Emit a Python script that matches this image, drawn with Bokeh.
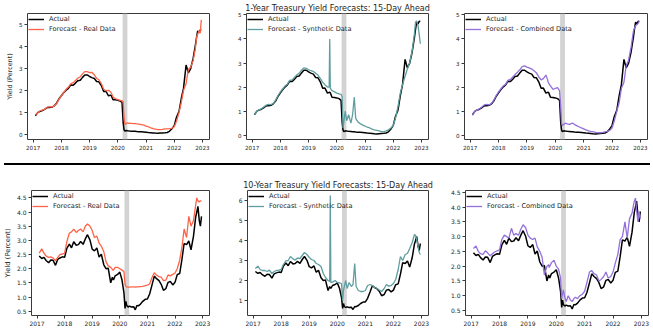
from bokeh.plotting import figure
from bokeh.layouts import column, row
from bokeh.models import (Legend, LegendItem, FixedTicker, Title, BoxAnnotation,
                          Range1d, NumeralTickFormatter, Div, Spacer)
from bokeh.embed import file_html
from bokeh.resources import INLINE

# ---------------- data (decimal years) ----------------
YEARS = [
    2017.08, 2017.17, 2017.25, 2017.33, 2017.42, 2017.50, 2017.58, 2017.67, 2017.75, 2017.83, 2017.92,
    2018.00, 2018.08, 2018.17, 2018.25, 2018.33, 2018.42, 2018.50, 2018.58, 2018.67, 2018.75, 2018.83, 2018.92,
    2019.00, 2019.08, 2019.17, 2019.25, 2019.33, 2019.42, 2019.50, 2019.58, 2019.67, 2019.73, 2019.75, 2019.77, 2019.83, 2019.92,
    2020.00, 2020.08, 2020.15, 2020.19, 2020.22, 2020.25, 2020.30, 2020.35, 2020.42, 2020.50, 2020.56, 2020.62, 2020.67, 2020.75, 2020.83, 2020.92,
    2021.00, 2021.08, 2021.17, 2021.25, 2021.33, 2021.42, 2021.50, 2021.58, 2021.67, 2021.75, 2021.83, 2021.92,
    2022.00, 2022.08, 2022.17, 2022.25, 2022.33, 2022.42, 2022.50, 2022.58, 2022.67, 2022.75, 2022.79, 2022.83, 2022.88, 2022.92, 2022.96,
]

# 1-Year Treasury
ACTUAL_1Y = [
    0.85, 1.00, 1.05, 1.08, 1.15, 1.22, 1.22, 1.24, 1.30, 1.42, 1.62,
    1.76, 1.89, 2.01, 2.09, 2.24, 2.23, 2.33, 2.44, 2.46, 2.59, 2.70, 2.70,
    2.63, 2.58, 2.54, 2.40, 2.39, 2.21, 1.95, 1.96, 1.75, 1.78, 1.78, 1.76, 1.58, 1.57,
    1.55, 1.52, 1.45, 0.55, 0.22, 0.15, 0.18, 0.17, 0.16, 0.15, 0.14, 0.14, 0.13, 0.12, 0.12, 0.11,
    0.10, 0.09, 0.08, 0.07, 0.06, 0.05, 0.06, 0.07, 0.08, 0.09, 0.14, 0.26,
    0.40, 0.78, 1.05, 1.63, 2.10, 3.15, 2.80, 2.98, 3.45, 4.05, 4.40, 4.70, 4.62, 4.74, 4.73,
]
REAL_1Y = [
    0.90, 0.98, 1.08, 1.10, 1.15, 1.24, 1.25, 1.25, 1.30, 1.40, 1.60,
    1.75, 1.90, 2.05, 2.15, 2.30, 2.35, 2.45, 2.55, 2.62, 2.75, 2.85, 2.85,
    2.80, 2.82, 2.70, 2.55, 2.48, 2.30, 2.05, 1.98, 2.00, 1.95, 1.92, 1.88, 1.70, 1.62,
    1.58, 1.55, 1.52, 1.50, 0.80, 0.45, 0.50, 0.52, 0.50, 0.50, 0.49, 0.49, 0.48, 0.47, 0.45, 0.42,
    0.38, 0.35, 0.30, 0.26, 0.24, 0.22, 0.22, 0.23, 0.25, 0.25, 0.26, 0.28,
    0.35, 0.60, 1.00, 1.45, 2.00, 2.30, 2.95, 3.05, 3.35, 3.90, 4.40, 4.55, 4.70, 4.60, 5.20,
]
SYNTH_1Y = [
    0.85, 1.00, 1.05, 1.10, 1.18, 1.25, 1.28, 1.27, 1.32, 1.45, 1.65,
    1.80, 1.92, 2.05, 2.12, 2.28, 2.30, 2.40, 2.50, 2.58, 2.70, 2.80, 2.78,
    2.72, 2.68, 2.65, 2.58, 2.50, 2.35, 2.20, 2.10, 2.00, 2.00, 4.00, 1.95, 1.85, 1.80,
    1.75, 1.72, 1.70, 1.60, 0.30, 0.55, 1.00, 0.60, 0.85, 0.50, 0.85, 1.58, 0.70, 0.55, 0.48, 0.42,
    0.38, 0.33, 0.30, 0.25, 0.22, 0.20, 0.18, 0.15, 0.15, 0.18, 0.22, 0.30,
    0.40, 0.70, 1.20, 1.75, 2.10, 2.45, 2.75, 3.00, 3.50, 4.20, 4.70, 4.75, 4.55, 4.20, 3.80,
]
COMB_1Y = [
    0.82, 1.00, 1.05, 1.10, 1.18, 1.26, 1.28, 1.26, 1.32, 1.45, 1.65,
    1.80, 1.92, 2.05, 2.12, 2.28, 2.32, 2.42, 2.52, 2.62, 2.72, 2.85, 2.88,
    2.83, 2.80, 2.75, 2.68, 2.60, 2.42, 2.30, 2.35, 2.50, 2.30, 2.20, 2.15, 2.05, 1.90,
    1.95, 1.98, 1.85, 1.20, 0.50, 0.40, 0.45, 0.50, 0.47, 0.45, 0.48, 0.50, 0.45, 0.40, 0.35, 0.30,
    0.26, 0.22, 0.18, 0.16, 0.15, 0.12, 0.10, 0.10, 0.12, 0.14, 0.16, 0.20,
    0.30, 0.60, 1.00, 1.35, 1.95, 2.20, 2.90, 3.10, 3.65, 4.30, 4.45, 4.55, 4.60, 4.65, 4.75,
]

# 10-Year Treasury
ACTUAL_10Y = [
    2.45, 2.36, 2.40, 2.29, 2.21, 2.31, 2.30, 2.12, 2.33, 2.38, 2.42,
    2.40, 2.72, 2.87, 2.74, 2.95, 2.83, 2.85, 2.96, 2.86, 3.05, 3.20, 3.01,
    2.69, 2.63, 2.73, 2.41, 2.51, 2.14, 2.00, 2.02, 1.50, 1.70, 1.65, 1.60, 1.75, 1.80,
    1.88, 1.60, 1.15, 0.60, 0.85, 0.70, 0.65, 0.68, 0.65, 0.66, 0.55, 0.70, 0.69, 0.75, 0.85, 0.92,
    0.93, 1.11, 1.44, 1.74, 1.65, 1.58, 1.45, 1.24, 1.30, 1.52, 1.55, 1.43,
    1.52, 1.79, 1.83, 2.32, 2.89, 2.85, 2.98, 2.67, 3.15, 3.83, 4.00, 4.20, 3.70, 3.50, 3.85,
]
REAL_10Y = [
    2.55, 2.70, 2.55, 2.45, 2.40, 2.42, 2.38, 2.28, 2.40, 2.50, 2.52,
    2.55, 2.95, 3.25, 3.30, 3.40, 3.28, 3.35, 3.40, 3.30, 3.50, 3.58, 3.50,
    3.35, 3.10, 3.15, 2.90, 2.80, 2.60, 2.25, 2.10, 2.05, 1.98, 1.95, 1.95, 2.05, 2.05,
    2.00, 1.95, 1.90, 1.45, 1.38, 1.36, 1.35, 1.35, 1.36, 1.36, 1.35, 1.36, 1.36, 1.37, 1.38, 1.40,
    1.42, 1.46, 1.70, 1.86, 1.78, 1.72, 1.70, 1.58, 1.60, 1.78, 1.75, 1.80,
    1.85, 2.00, 2.30, 2.75, 3.40, 3.10, 3.85, 3.50, 3.70, 4.25, 4.50, 4.40, 4.35, 4.40, 4.38,
]
SYNTH_10Y = [
    2.60, 2.72, 2.55, 2.50, 2.50, 2.45, 2.52, 2.35, 2.45, 2.50, 2.52,
    2.55, 2.80, 2.98, 3.00, 3.20, 3.08, 3.02, 3.12, 3.10, 3.25, 3.40, 3.30,
    3.15, 3.05, 3.00, 2.85, 2.80, 2.70, 2.35, 2.15, 2.00, 1.95, 6.25, 1.90, 1.92, 2.00,
    1.90, 1.88, 1.85, 1.00, 1.50, 1.70, 2.00, 1.60, 1.90, 1.70, 1.80, 2.85, 1.70, 1.50, 1.45, 1.45,
    1.50, 1.75, 1.80, 1.75, 1.65, 1.60, 1.52, 1.45, 1.60, 1.80, 1.72, 1.75,
    1.85, 2.05, 2.55, 3.20, 3.00, 3.30, 3.35, 3.60, 3.90, 4.30, 4.25, 4.05, 3.70, 3.40, 3.30,
]
COMB_10Y = [
    2.60, 2.68, 2.50, 2.42, 2.40, 2.52, 2.45, 2.35, 2.42, 2.48, 2.52,
    2.55, 2.90, 3.05, 3.00, 2.95, 3.28, 3.05, 3.10, 3.05, 3.25, 3.40, 3.30,
    3.05, 2.95, 2.90, 2.95, 2.65, 2.50, 2.30, 1.70, 2.00, 2.05, 1.95, 2.00, 2.12, 2.20,
    2.00, 1.90, 1.60, 0.90, 1.05, 1.20, 0.95, 0.80, 1.00, 0.85, 0.80, 0.90, 0.95, 0.90, 1.00, 1.05,
    1.15, 1.45, 1.80, 1.85, 1.75, 1.70, 1.50, 1.55, 1.65, 1.80, 1.60, 1.65,
    1.80, 2.10, 2.40, 2.90, 3.00, 3.50, 2.95, 3.60, 3.80, 4.20, 4.30, 3.90, 3.50, 3.85, 3.60,
]

RECESSION = (2020.17, 2020.34)
X_TICKS = [2017, 2018, 2019, 2020, 2021, 2022, 2023]
Y_TICKS_1Y = [0, 1, 2, 3, 4, 5]
Y_TICKS_10Y = [0.5, 1.0, 1.5, 2.0, 2.5, 3.0, 3.5, 4.0, 4.5]
Y_TICKS_10Y_SYN = [1, 2, 3, 4, 5, 6]

TITLE_1Y = "1-Year Treasury Yield Forecasts: 15-Day Ahead"
TITLE_10Y = "10-Year Treasury Yield Forecasts: 15-Day Ahead"

FONT = "DejaVu Sans"
TXT = "#1e1e1e"
FRAME = "#3a3a3a"


def build(w, h, bl, br, bt, bb, yrange, yticks, yfmt, actual, fc, color, fc_label,
          ylabel=False, title=None, tick_fs="5.6px", ylab_fs="6.4px", title_standoff=0):
    p = figure(width=w, height=h, x_range=Range1d(2016.8, 2023.25),
               y_range=Range1d(*yrange), output_backend="svg", toolbar_location=None,
               min_border_left=bl, min_border_right=br, min_border_top=bt,
               min_border_bottom=bb)
    p.grid.visible = False
    p.outline_line_color = FRAME
    p.outline_line_width = 1
    p.background_fill_color = "white"
    p.border_fill_color = "white"

    p.add_layout(BoxAnnotation(left=RECESSION[0], right=RECESSION[1],
                               fill_color="#d3d3d3", fill_alpha=1.0,
                               line_color=None, level="underlay"))
    r_act = p.line(YEARS, actual, line_color="black", line_width=1.5)
    r_fc = p.line(YEARS, fc, line_color=color, line_width=1.3)

    legend = Legend(items=[LegendItem(label="Actual", renderers=[r_act]),
                           LegendItem(label=fc_label, renderers=[r_fc])],
                    location="top_left", border_line_color=None,
                    background_fill_alpha=0.0, label_text_font=FONT,
                    label_text_font_size="6.6px", label_text_color=TXT,
                    glyph_width=16, glyph_height=10, label_height=10,
                    label_standoff=5, spacing=0, padding=4, margin=1)
    p.add_layout(legend)

    p.xaxis.ticker = FixedTicker(ticks=X_TICKS)
    p.xaxis.formatter = NumeralTickFormatter(format="0")
    p.yaxis.ticker = FixedTicker(ticks=yticks)
    p.yaxis.formatter = NumeralTickFormatter(format=yfmt)
    for ax in (p.xaxis[0], p.yaxis[0]):
        ax.axis_line_color = None
        ax.major_tick_line_color = FRAME
        ax.major_tick_out = 3
        ax.major_tick_in = 0
        ax.minor_tick_line_color = None
        ax.major_label_text_font = FONT
        ax.major_label_text_font_size = tick_fs
        ax.major_label_text_color = TXT
        ax.major_label_standoff = 2
    if ylabel:
        p.yaxis.axis_label = "Yield (Percent)"
        p.yaxis.axis_label_text_font = FONT
        p.yaxis.axis_label_text_font_size = ylab_fs
        p.yaxis.axis_label_text_font_style = "normal"
        p.yaxis.axis_label_text_color = TXT
        p.yaxis.axis_label_standoff = 2
    if title:
        p.add_layout(Title(text=title, align="center", text_font=FONT,
                           text_font_size="8px", text_font_style="normal",
                           text_color=TXT, standoff=title_standoff, offset=0), "above")
    return p


# Row 1 (1-year): frames at y 13..139
f1 = build(214, 163, 27, 5, 13, 24, (-0.23, 5.49), Y_TICKS_1Y, "0",
           ACTUAL_1Y, REAL_1Y, "#ff6347", "Forecast - Real Data", ylabel=True)
f2 = build(223, 163, 32, 9, 13, 24, (-0.18, 5.06), Y_TICKS_1Y, "0",
           ACTUAL_1Y, SYNTH_1Y, "#5f9ea0", "Forecast - Synthetic Data", title=TITLE_1Y,
           title_standoff=1)
f3 = build(216, 163, 27, 6, 13, 24, (-0.18, 5.06), Y_TICKS_1Y, "0",
           ACTUAL_1Y, COMB_1Y, "#9370db", "Forecast - Combined Data")

# Row 2 (10-year): frames at y 190..315
f4 = build(214, 165, 27, 5, 25, 15, (0.35, 4.76), Y_TICKS_10Y, "0.0",
           ACTUAL_10Y, REAL_10Y, "#ff6347", "Forecast - Real Data", ylabel=True,
           tick_fs="6px", ylab_fs="6.8px")
f5 = build(223, 165, 33, 9, 25, 15, (0.25, 6.5), Y_TICKS_10Y_SYN, "0",
           ACTUAL_10Y, SYNTH_10Y, "#5f9ea0", "Forecast - Synthetic Data", title=TITLE_10Y,
           tick_fs="6px", title_standoff=2)
f6 = build(216, 165, 28, 5, 25, 15, (0.33, 4.56), Y_TICKS_10Y, "0.0",
           ACTUAL_10Y, COMB_10Y, "#9370db", "Forecast - Combined Data", tick_fs="6px")

sep = Div(text="", width=646, height=2,
          styles={"background-color": "black", "margin": "0", "padding": "0"})
sep_row = row(Spacer(width=4, height=2), sep, spacing=0)

layout = column(row(f1, f2, f3, spacing=0), sep_row, row(f4, f5, f6, spacing=0), spacing=0)

open("out.html", "w").write(file_html(layout, INLINE))
